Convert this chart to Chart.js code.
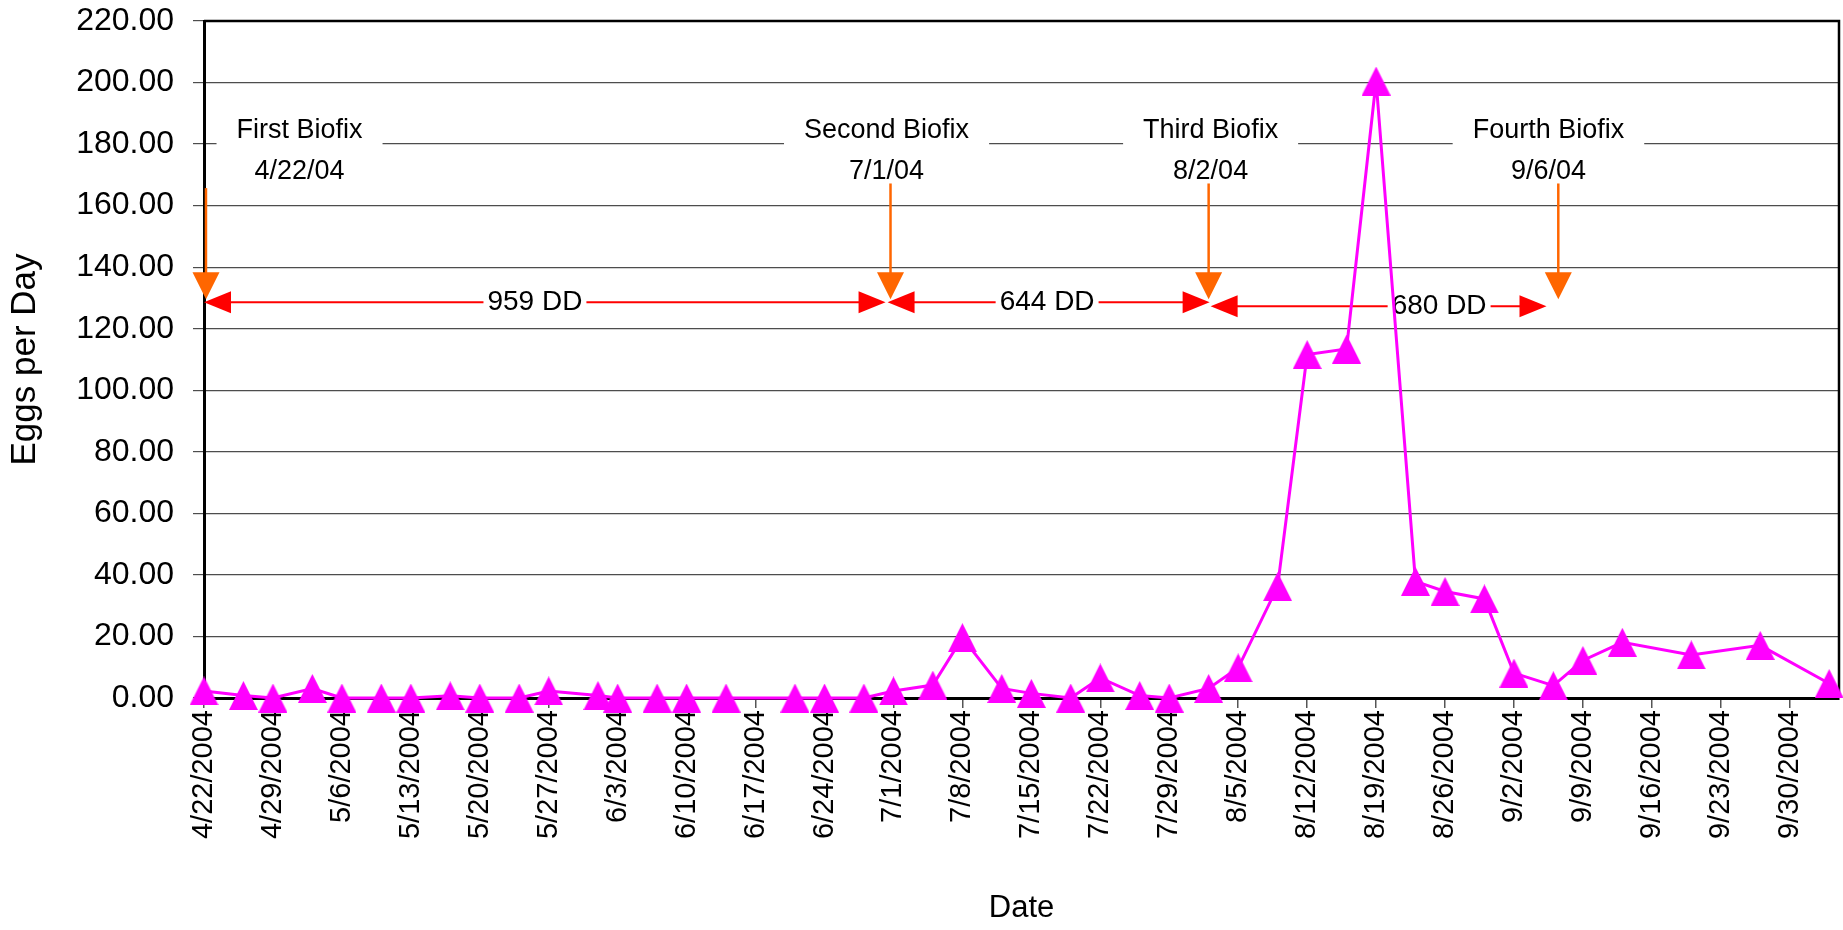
<!DOCTYPE html>
<html>
<head>
<meta charset="utf-8">
<script src="https://cdn.jsdelivr.net/npm/chart.js@4.4.0/dist/chart.umd.min.js"></script>
<style>
  html, body { margin: 0; padding: 0; background: #fff; overflow: hidden; }
  #wrap { width: 1843px; height: 930px; overflow: hidden; }
  canvas { display: block; }
</style>
</head>
<body>
<div id="wrap"><canvas id="eggsChart" width="1856" height="930"></canvas></div>
<script>
// sampling dates and eggs per day
const sampleDates = [
    '4/22/2004', '4/26/2004', '4/29/2004', '5/3/2004', '5/6/2004', '5/10/2004',
    '5/13/2004', '5/17/2004', '5/20/2004', '5/24/2004', '5/27/2004', '6/1/2004',
    '6/3/2004', '6/7/2004', '6/10/2004', '6/14/2004', '6/21/2004', '6/24/2004',
    '6/28/2004', '7/1/2004', '7/5/2004', '7/8/2004', '7/12/2004', '7/15/2004',
    '7/19/2004', '7/22/2004', '7/26/2004', '7/29/2004', '8/2/2004', '8/5/2004',
    '8/9/2004', '8/12/2004', '8/16/2004', '8/19/2004', '8/23/2004', '8/26/2004',
    '8/30/2004', '9/2/2004', '9/6/2004', '9/9/2004', '9/13/2004', '9/20/2004',
    '9/27/2004', '10/4/2004'
];
const eggsPerDay = [
    2.3, 0.8, 0, 3.1, 0, 0,
    0, 0.7, 0, 0, 2.3, 0.8,
    0, 0, 0, 0, 0, 0,
    0, 2.3, 4.2, 19.6, 3.1, 1.5,
    0, 6.5, 0.8, 0, 3.1, 9.8,
    36.2, 111.6, 113.4, 200.5, 37.9, 34.6,
    32.2, 8.1, 4.0, 12.2, 18.1, 14.0,
    17.1, 4.7
];
const tickLabels = [
    '4/22/2004', '4/29/2004', '5/6/2004', '5/13/2004', '5/20/2004', '5/27/2004',
    '6/3/2004', '6/10/2004', '6/17/2004', '6/24/2004', '7/1/2004', '7/8/2004',
    '7/15/2004', '7/22/2004', '7/29/2004', '8/5/2004', '8/12/2004', '8/19/2004',
    '8/26/2004', '9/2/2004', '9/9/2004', '9/16/2004', '9/23/2004', '9/30/2004'
];
const biofixNames = ['First Biofix', 'Second Biofix', 'Third Biofix', 'Fourth Biofix'];
const biofixDates = ['4/22/04', '7/1/04', '8/2/04', '9/6/04'];
const ddLabels = ['959 DD', '644 DD', '680 DD'];

const FONT = '"Liberation Sans", Arial, sans-serif';

// days since first sample
function dayOf(str) {
    const p = str.split('/').map(Number);
    const yr = p[2] < 100 ? 2000 + p[2] : p[2];
    return (Date.UTC(yr, p[0] - 1, p[1]) - Date.UTC(2004, 3, 22)) / 86400000;
}

// placement of the drawn notes, in axis units (days / eggs)
const notes = {
    titleY: 184.3,
    dateY: 171.2,
    labelX: [9.7, 69.3, 102.2, 136.5],
    arrowX: [0.2, 69.7, 102.0, 137.5],
    arrowTop: [165.7, 167.2, 167.2, 167.2],
    arrowTip: 129.6,
    ddSpans: [[0, 69.2], [69.4, 102.1], [102.2, 136.3]],
    ddY: [128.6, 128.6, 127.3],
    ddTextX: [33.6, 85.6, 125.4]
};

// triangle marker
const marker = document.createElement('canvas');
marker.width = 29;
marker.height = 29;
(function() {
    const m = marker.getContext('2d');
    m.fillStyle = '#FF00FF';
    m.beginPath();
    m.moveTo(14.5, 0);
    m.lineTo(29, 29);
    m.lineTo(0, 29);
    m.closePath();
    m.fill();
})();

const notesPlugin = {
    id: 'biofixNotes',
    beforeDatasetsDraw(chart) {
        const ctx = chart.ctx;
        const x = chart.scales.x;
        const y = chart.scales.y;
        const area = chart.chartArea;
        ctx.save();

        // frame top and right
        ctx.strokeStyle = '#000';
        ctx.lineWidth = 2.5;
        ctx.beginPath();
        ctx.moveTo(area.left, area.top);
        ctx.lineTo(area.right, area.top);
        ctx.lineTo(area.right, area.bottom);
        ctx.stroke();

        ctx.font = '27px ' + FONT;
        ctx.textAlign = 'center';
        ctx.textBaseline = 'middle';

        biofixNames.forEach((name, i) => {
            const cx = x.getPixelForValue(notes.labelX[i]);
            const ty = y.getPixelForValue(notes.titleY);
            const w = ctx.measureText(name).width + 40;
            ctx.fillStyle = '#fff';
            ctx.fillRect(cx - w / 2, ty - 18, w, 36);
            ctx.fillStyle = '#000';
            ctx.fillText(name, cx, ty);
            ctx.fillText(biofixDates[i], cx, y.getPixelForValue(notes.dateY));

            // orange arrow down
            const ax = x.getPixelForValue(notes.arrowX[i]);
            const top = y.getPixelForValue(notes.arrowTop[i]);
            const tip = y.getPixelForValue(notes.arrowTip);
            ctx.strokeStyle = '#FF6600';
            ctx.lineWidth = 2.5;
            ctx.beginPath();
            ctx.moveTo(ax, top);
            ctx.lineTo(ax, tip - 20);
            ctx.stroke();
            ctx.fillStyle = '#FF6600';
            ctx.beginPath();
            ctx.moveTo(ax - 13.5, tip - 27);
            ctx.lineTo(ax + 13.5, tip - 27);
            ctx.lineTo(ax, tip);
            ctx.closePath();
            ctx.fill();
        });

        // red double arrows with degree-day totals
        ctx.font = '28px ' + FONT;
        ddLabels.forEach((lab, i) => {
            const x1 = x.getPixelForValue(notes.ddSpans[i][0]);
            const x2 = x.getPixelForValue(notes.ddSpans[i][1]);
            const yy = y.getPixelForValue(notes.ddY[i]);
            ctx.strokeStyle = '#FF0000';
            ctx.lineWidth = 2;
            ctx.beginPath();
            ctx.moveTo(x1 + 20, yy);
            ctx.lineTo(x2 - 20, yy);
            ctx.stroke();
            ctx.fillStyle = '#FF0000';
            ctx.beginPath();
            ctx.moveTo(x1, yy);
            ctx.lineTo(x1 + 27, yy - 11);
            ctx.lineTo(x1 + 27, yy + 11);
            ctx.closePath();
            ctx.fill();
            ctx.beginPath();
            ctx.moveTo(x2, yy);
            ctx.lineTo(x2 - 27, yy - 11);
            ctx.lineTo(x2 - 27, yy + 11);
            ctx.closePath();
            ctx.fill();

            const tx = x.getPixelForValue(notes.ddTextX[i]);
            const w = ctx.measureText(lab).width + 8;
            ctx.fillStyle = '#fff';
            ctx.fillRect(tx - w / 2, yy - 15, w, 30);
            ctx.fillStyle = '#000';
            ctx.fillText(lab, tx, yy);
        });

        ctx.restore();
    }
};

const points = sampleDates.map((d, i) => ({ x: dayOf(d), y: eggsPerDay[i] }));

new Chart(document.getElementById('eggsChart'), {
    type: 'line',
    data: {
        datasets: [{
            label: 'Eggs per Day',
            data: points,
            borderColor: '#FF00FF',
            backgroundColor: '#FF00FF',
            borderWidth: 3,
            tension: 0,
            pointStyle: marker,
            pointRadius: 14,
            pointHoverRadius: 14,
            clip: false
        }]
    },
    options: {
        responsive: false,
        animation: false,
        layout: {
            padding: { left: 0, top: 21, right: 0, bottom: 0 }
        },
        plugins: {
            legend: { display: false },
            tooltip: { enabled: false }
        },
        scales: {
            x: {
                type: 'linear',
                min: 0,
                max: 166,
                afterFit: function(scale) {
                    scale.height = 232;
                    scale.paddingLeft = 0;
                    scale.paddingRight = 0;
                },
                afterBuildTicks: function(scale) {
                    scale.ticks = tickLabels.map(l => ({ value: dayOf(l) }));
                },
                ticks: {
                    autoSkip: false,
                    minRotation: 90,
                    maxRotation: 90,
                    padding: 2,
                    color: '#000',
                    font: { family: FONT, size: 29 },
                    callback: function(value, index) {
                        return tickLabels[index];
                    }
                },
                grid: {
                    drawOnChartArea: false,
                    tickLength: 10,
                    color: '#555',
                    lineWidth: 1.5
                },
                border: { display: true, color: '#000', width: 3 },
                title: {
                    display: true,
                    text: 'Date',
                    color: '#000',
                    font: { family: FONT, size: 31 },
                    padding: { top: 0, bottom: 3 }
                }
            },
            y: {
                min: 0,
                max: 220,
                afterFit: function(scale) {
                    scale.width = 204;
                    scale.paddingTop = 0;
                    scale.paddingBottom = 0;
                },
                ticks: {
                    stepSize: 20,
                    padding: 19,
                    color: '#000',
                    font: { family: FONT, size: 32 },
                    callback: function(value) {
                        return value.toFixed(2);
                    }
                },
                grid: {
                    color: '#4d4d4d',
                    lineWidth: 1.2,
                    tickLength: 11
                },
                border: { display: true, color: '#000', width: 3 },
                title: {
                    display: true,
                    text: 'Eggs per Day',
                    color: '#000',
                    font: { family: FONT, size: 35 },
                    padding: { top: 4, bottom: 0 }
                }
            }
        }
    },
    plugins: [notesPlugin]
});
</script>
</body>
</html>
